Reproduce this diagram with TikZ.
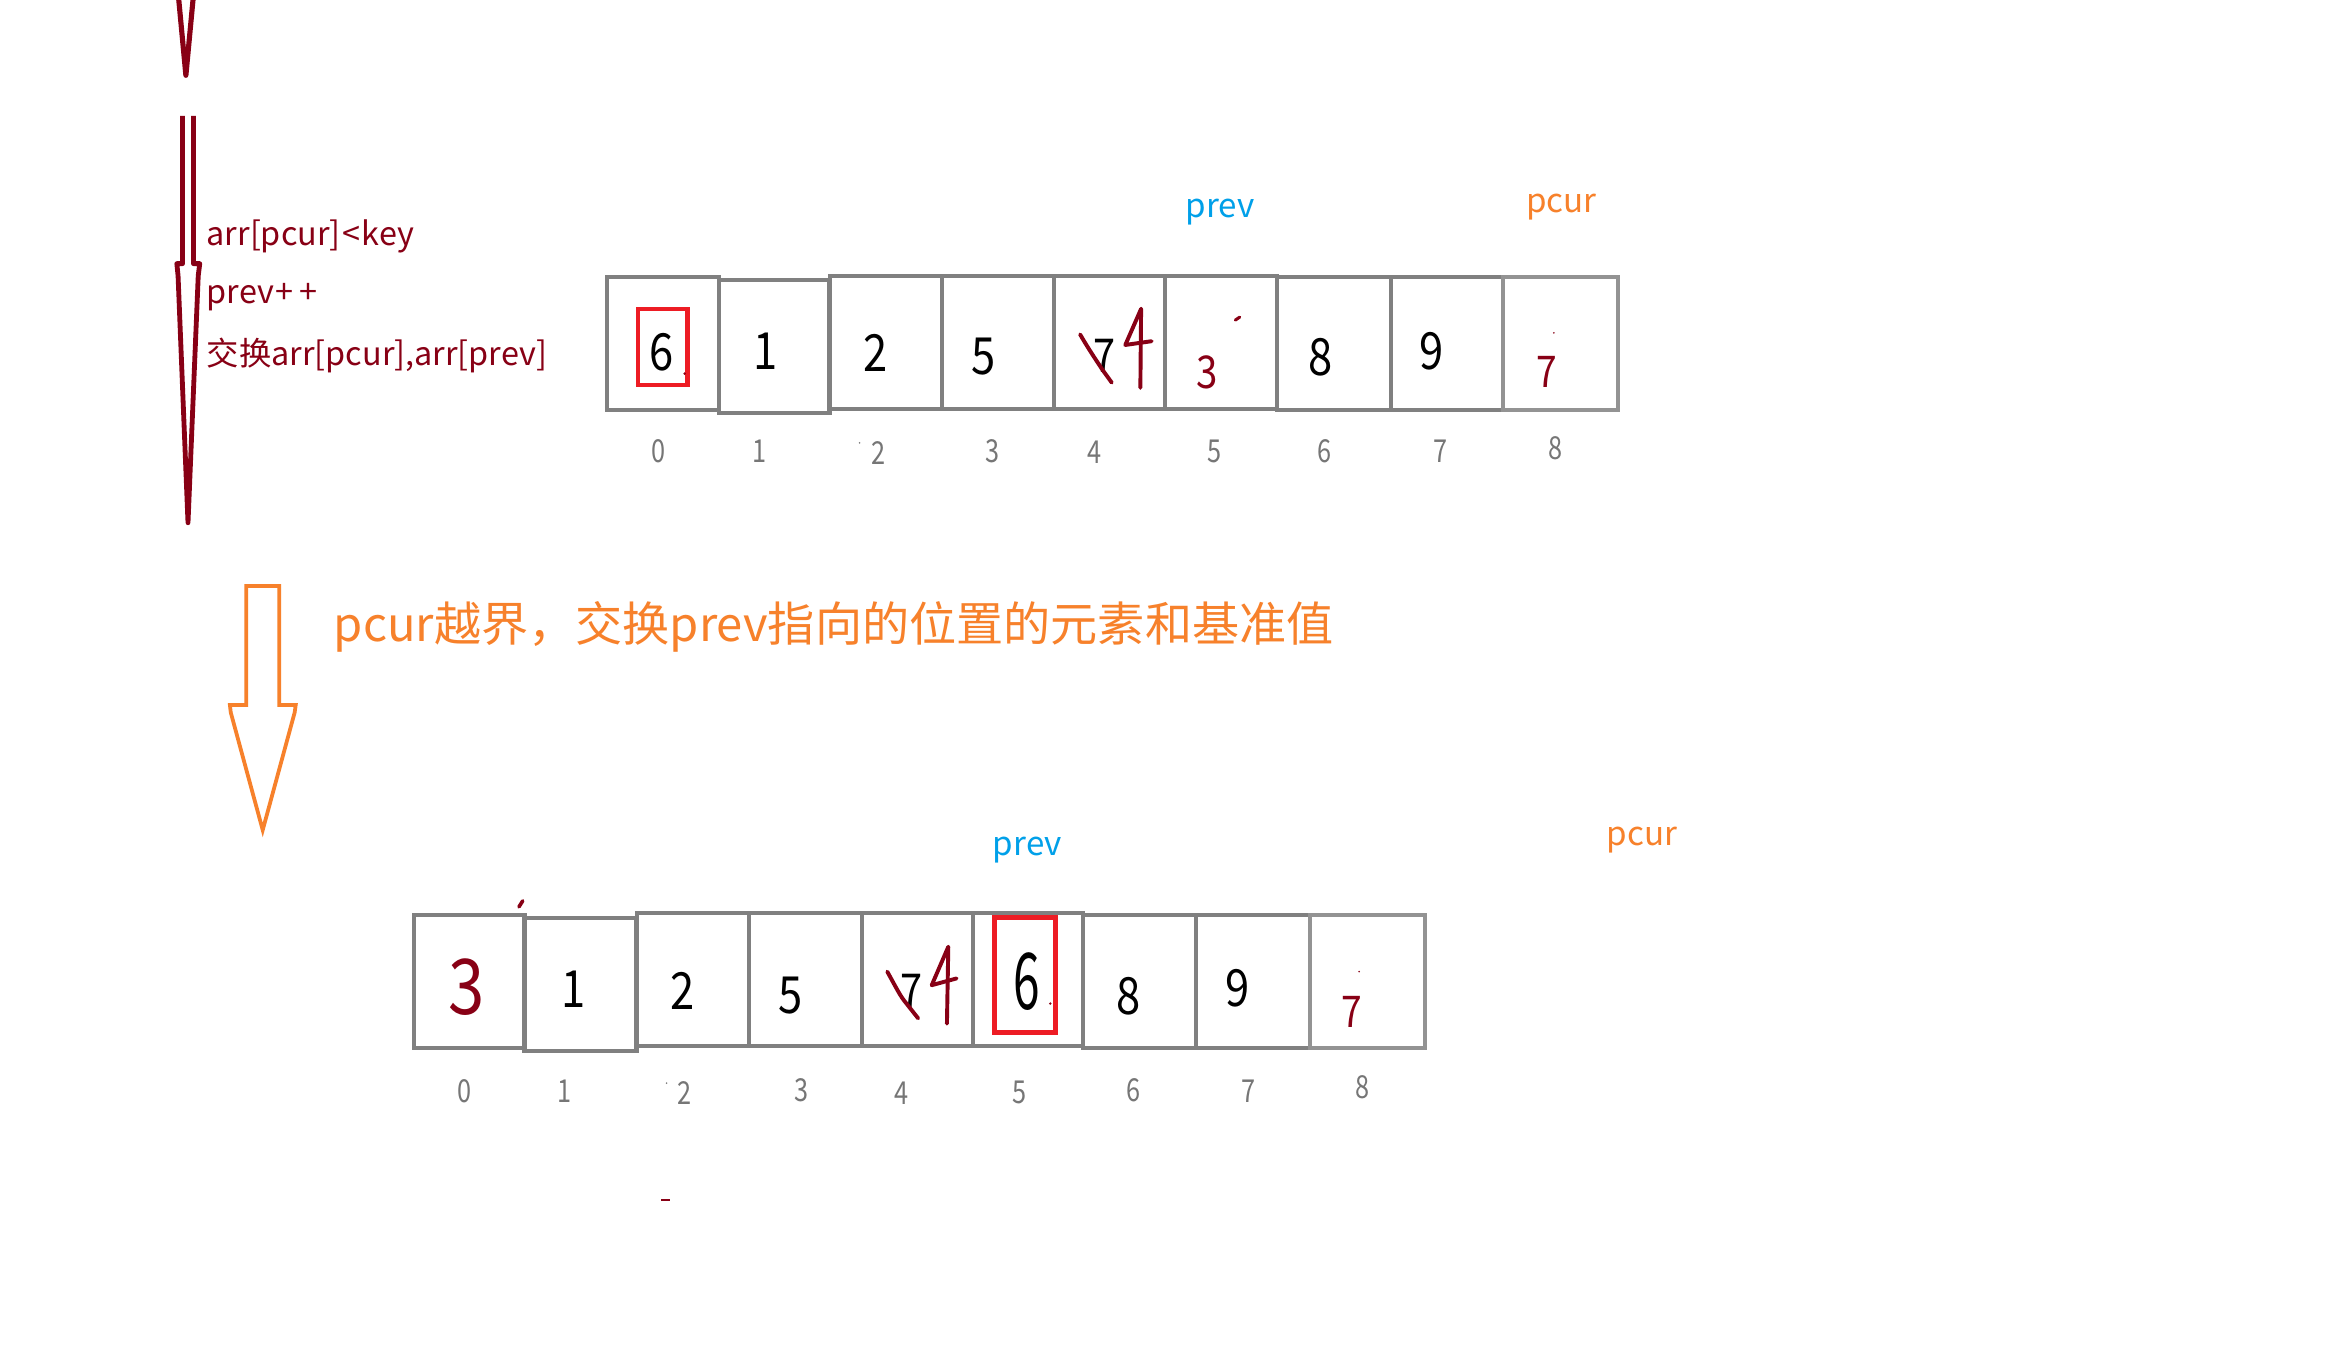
\documentclass[tikz,border=0pt]{standalone}
\usepackage{fontspec}
\setmainfont{Noto Sans CJK SC}
\definecolor{dred}{RGB}{136,0,21}
\definecolor{orng}{RGB}{247,129,43}
\definecolor{blu}{RGB}{0,160,233}
\definecolor{redbox}{RGB}{237,28,36}
\definecolor{cellgray}{RGB}{128,128,128}
\definecolor{idxgray}{RGB}{118,118,118}
\begin{document}
\begin{tikzpicture}[x=1pt,y=-1pt,
  cellbox/.style={draw=cellgray,line width=2.6pt,inner sep=0pt,minimum height=88.2pt},
  val/.style={inner sep=0pt,font=\fontsize{34}{40}\selectfont,xscale=0.85},
  idx/.style={inner sep=0pt,text=idxgray,font=\fontsize{21}{24}\selectfont,xscale=0.8},
  ptr/.style={inner sep=0pt,font=\fontsize{22}{26}\selectfont},
  note/.style={inner sep=0pt,anchor=west,text=dred,font=\fontsize{21.5}{25}\selectfont},
  hand/.style={draw=dred,line width=2.6pt,line cap=round,line join=round},
  pick/.style={draw=redbox,line width=3pt}]
\useasboundingbox (0,0) rectangle (1560,896.2);
\fill[white] (0,0) rectangle (1560,896.2);

% ---- left dark red arrows ----
\draw[dred,line width=3.4pt,line join=round,line cap=butt] (118.4,-3) -- (123.4,50) -- (128.4,-3);
\draw[dred,line width=3.2pt,line join=round,line cap=butt]
  (121.2,77) -- (121.2,175) -- (117.4,175) -- (118.2,183) -- (124.8,347)
  -- (131.6,183) -- (132.6,175) -- (128.4,175) -- (128.4,77);

\node[note] (n1) at (137,157) {arr[pcur]\kern1pt<\kern1pt key};
\node[note] (n2) at (137,197.5) {prev\kern1pt+\kern4pt+};
\node[note] (n3) at (137,236) {交换arr[pcur],arr[prev]};

% ---- top array ----
\node[ptr,text=blu] (tprev) at (810,140.5) {prev};
\node[ptr,text=orng] (tpcur) at (1036.5,137.5) {pcur};

\node[cellbox,minimum width=74.5pt] (t0) at (440,228.1) {};
\node[cellbox,minimum width=73.4pt,line width=3pt] (t1) at (514,230.1) {};
\node[cellbox,minimum width=74.5pt] (t2) at (588,227.6) {};
\node[cellbox,minimum width=74.5pt] (t3) at (662.5,227.6) {};
\node[cellbox,minimum width=73.5pt] (t4) at (736.5,227.6) {};
\node[cellbox,minimum width=74.4pt] (t5) at (810.4,227.6) {};
\node[cellbox,minimum width=75.5pt] (t6) at (885.4,228.1) {};
\node[cellbox,minimum width=74.4pt] (t7) at (960.3,228.1) {};
\node[cellbox,minimum width=76.5pt,draw=cellgray!85] (t8) at (1035.8,228.1) {};

\draw[pick] (423.5,205) rectangle (456.3,255.5);
\node[val] (tv0) at (439.5,234) {6};
\fill[dred] (454.5,248) circle (0.9pt);
\node[val] (tv1) at (508,233) {1};
\node[val] (tv2) at (581.5,234) {2};
\node[val] (tv3) at (653,237) {5};
\node[val,font=\fontsize{31}{36}\selectfont] (tv4) at (733,236) {7};
\draw[hand] (717,222) .. controls (724,234) and (729,241) .. (731.5,245) -- (738,254);
\draw[hand] (757.5,205) -- (747,229) -- (764.5,226.5);
\draw[hand] (757.5,205) -- (757,257.5);
\node[val,text=dred,font=\fontsize{30}{36}\selectfont] (tv5) at (801.5,247) {3};
\draw[hand,line width=2pt] (823,210.5) -- (820,212.5);
\node[val] (tv6) at (876.5,237) {8};
\node[val] (tv7) at (950,233) {9};
\node[val,text=dred,font=\fontsize{29}{34}\selectfont] (tv8) at (1026.5,247) {7};
\fill[dred] (1031.5,221) circle (0.6pt);

\node[idx] (ti0) at (437,299.3) {0};
\node[idx] (ti1) at (504,299.3) {1};
\node[idx] (ti2) at (583.5,300.5) {2};
\fill[idxgray] (570.6,294) circle (0.6pt);
\node[idx] (ti3) at (659,299.5) {3};
\node[idx] (ti4) at (726.5,300.5) {4};
\node[idx] (ti5) at (806,299.5) {5};
\node[idx] (ti6) at (879.5,299.5) {6};
\node[idx] (ti7) at (956,299.5) {7};
\node[idx] (ti8) at (1032.3,297.5) {8};

% ---- orange arrow and title ----
\draw[orng,line width=2.5pt,line join=miter]
  (163.5,389) -- (163.5,468) -- (152.6,468) -- (153.2,473) -- (174.4,551)
  -- (195.6,473) -- (196.3,468) -- (185.3,468) -- (185.3,389) -- cycle;
\node[inner sep=0pt,anchor=west,text=orng,font=\fontsize{31.3}{36}\selectfont] (title) at (221.5,416)
  {pcur越界，交换prev指向的位置的元素和基准值};

% ---- bottom array ----
\node[ptr,text=blu] (bprev) at (682,564.5) {prev};
\node[ptr,text=orng] (bpcur) at (1090,557.5) {pcur};

\node[cellbox,minimum width=73.5pt] (b0) at (311.5,651.5) {};
\node[cellbox,minimum width=74.4pt,line width=3pt] (b1) at (385.4,653.5) {};
\node[cellbox,minimum width=74.5pt] (b2) at (459.9,650) {};
\node[cellbox,minimum width=75.4pt] (b3) at (534.8,650) {};
\node[cellbox,minimum width=73.5pt] (b4) at (609.3,650) {};
\node[cellbox,minimum width=73pt] (b5) at (682.5,650) {};
\node[cellbox,minimum width=75pt] (b6) at (756.5,651.5) {};
\node[cellbox,minimum width=75.5pt] (b7) at (831.8,651.5) {};
\node[cellbox,minimum width=76.4pt,draw=cellgray!85] (b8) at (907.7,651.5) {};

\node[val,text=dred,font=\fontsize{51}{58}\selectfont] (bv0) at (309.5,655) {3};
\draw[hand,line width=2.4pt] (347,598) -- (344.5,602);
\node[val] (bv1) at (381,657) {1};
\node[val] (bv2) at (453.4,658) {2};
\node[val] (bv3) at (525,661) {5};
\node[val,font=\fontsize{31}{36}\selectfont] (bv4) at (604.8,657.8) {7};
\draw[hand] (589,645) .. controls (594,654) and (597,660) .. (600,664) -- (609.5,676);
\draw[hand] (629.5,628.5) -- (618.5,654) -- (635,649.5);
\draw[hand] (629.5,628.5) -- (628.6,679.5);
\draw[pick,line width=3.3pt] (660,609) rectangle (700.5,685.5);
\node[val,font=\fontsize{52}{58}\selectfont,xscale=0.72] (bv5) at (681.6,651.3) {6};
\fill[dred] (697.2,666.2) circle (0.9pt);
\node[val] (bv6) at (749.3,661) {8};
\node[val] (bv7) at (821.8,656) {9};
\node[val,text=dred,font=\fontsize{29}{34}\selectfont] (bv8) at (897.3,672) {7};
\fill[dred] (902.2,645) circle (0.6pt);

\node[idx] (bi0) at (308.5,724.5) {0};
\node[idx] (bi1) at (375,724.5) {1};
\node[idx] (bi2) at (454.4,725.5) {2};
\fill[idxgray] (442.5,719) circle (0.6pt);
\node[idx] (bi3) at (531.9,723.5) {3};
\node[idx] (bi4) at (598.4,725.5) {4};
\node[idx] (bi5) at (677,725.5) {5};
\node[idx] (bi6) at (752.3,723.5) {6};
\node[idx] (bi7) at (828.8,724.5) {7};
\node[idx] (bi8) at (904.2,721.5) {8};

\draw[dred,line width=1.2pt] (439,796.5) -- (444.5,796.5);
\end{tikzpicture}
\end{document}
